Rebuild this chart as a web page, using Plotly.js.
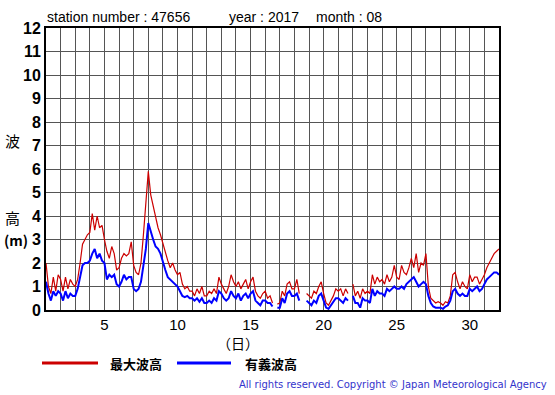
<!DOCTYPE html>
<html>
<head>
<meta charset="utf-8">
<script src="https://cdn.plot.ly/plotly-3.0.1.min.js"></script>
<style>
  html, body { margin: 0; padding: 0; background: #fff; }
  #chart { width: 555px; height: 395px; }
</style>
</head>
<body>
<div id="chart"></div>
<script>
// Samples every 4 hours, starting at day 1 00:00 (x = 1), ending at day 32 00:00.
const samplesPerDay = 6;
const startDay = 1;

// 最大波高 (maximum wave height, m)
const maxWave = [
  2.0, 1.0, 0.7, 1.4, 0.8, 1.5,   // 1
  1.3, 0.8, 1.4, 0.9, 1.3, 1.1,   // 2
  1.0, 1.3, 2.0, 2.8, 3.0, 3.2,   // 3
  3.3, 4.1, 3.4, 4.0, 3.5, 3.6,   // 4
  3.0, 2.5, 2.2, 2.7, 2.4, 1.7,   // 5
  1.8, 2.2, 2.4, 2.3, 2.4, 2.9,   // 6
  1.9, 1.6, 1.5, 2.0, 3.2, 4.4,   // 7
  5.9, 4.9, 4.4, 4.0, 3.5, 3.2,   // 8
  2.8, 2.5, 2.1, 1.8, 2.0, 1.7,   // 9
  1.5, 1.6, 1.1, 0.9, 1.0, 0.8,   // 10
  0.8, 0.6, 0.9, 0.7, 1.0, 0.6,   // 11
  0.6, 0.8, 0.7, 0.9, 0.7, 1.4,   // 12
  1.1, 0.9, 0.7, 1.0, 1.5, 1.2,   // 13
  1.0, 1.2, 0.9, 1.1, 1.3, 0.9,   // 14
  1.2, 1.4, 0.8, 0.6, 0.5, 0.7,   // 15
  0.8, 0.5, 0.6, 0.3, null, 0.25, // 16
  0.3, 0.8, 0.6, 1.1, 1.2, 0.9,   // 17
  0.9, 1.3, 0.7, null, null, 0.7, // 18
  0.6, 0.5, 0.8, 0.7, 1.0, 1.2,   // 19
  0.7, 0.3, 0.2, 0.4, 0.6, 0.9,   // 20
  0.8, 0.9, 0.6, 0.9, 0.7, null,  // 21
  1.1, 0.6, 0.8, 0.5, 0.9, 0.7,   // 22
  0.8, 0.7, 1.5, 1.1, 1.4, 1.2,   // 23
  1.3, 1.1, 1.5, 1.2, 1.4, 1.9,   // 24
  1.4, 1.3, 1.9, 1.6, 1.5, 1.8,   // 25
  2.2, 1.8, 2.4, 1.6, 2.0, 1.9,   // 26
  2.4, 1.0, 0.5, 0.4, 0.3, 0.35,  // 27
  0.3, 0.2, 0.35, 0.3, 0.6, 1.5,  // 28
  1.6, 1.2, 0.9, 1.2, 1.0, 0.9,   // 29
  1.5, 1.2, 1.4, 1.4, 1.1, 1.3,   // 30
  1.5, 1.8, 2.0, 2.2, 2.4, 2.5,   // 31
  2.6
];

// 有義波高 (significant wave height, m)
const sigWave = [
  1.2, 0.7, 0.4, 0.8, 0.6, 0.8,   // 1
  0.7, 0.4, 0.8, 0.5, 0.7, 0.6,   // 2
  0.6, 0.9, 1.4, 1.9, 2.0, 2.0,   // 3
  2.1, 2.4, 2.6, 2.2, 2.4, 2.1,   // 4
  2.0, 1.3, 1.5, 1.4, 1.5, 1.1,   // 5
  1.0, 1.2, 1.5, 1.3, 1.4, 1.4,   // 6
  0.9, 0.8, 0.9, 1.2, 1.9, 2.6,   // 7
  3.7, 3.3, 3.0, 2.7, 2.6, 2.4,   // 8
  2.0, 1.7, 1.4, 1.3, 1.2, 1.1,   // 9
  1.0, 0.8, 0.6, 0.55, 0.6, 0.5,  // 10
  0.5, 0.4, 0.5, 0.35, 0.5, 0.3,  // 11
  0.3, 0.4, 0.3, 0.5, 0.4, 0.8,   // 12
  0.7, 0.5, 0.4, 0.5, 0.8, 0.6,   // 13
  0.5, 0.7, 0.4, 0.6, 0.7, 0.5,   // 14
  0.7, 0.8, 0.4, 0.3, 0.2, 0.4,   // 15
  0.4, 0.3, 0.3, 0.15, null, 0.1, // 16
  0.1, 0.5, 0.3, 0.7, 0.8, 0.6,   // 17
  0.6, 0.7, 0.4, null, null, 0.4, // 18
  0.3, 0.2, 0.4, 0.3, 0.6, 0.7,   // 19
  0.4, 0.1, 0.05, 0.2, 0.3, 0.5,  // 20
  0.5, 0.4, 0.3, 0.5, 0.4, null,  // 21
  0.6, 0.3, 0.3, 0.1, 0.5, 0.4,   // 22
  0.4, 0.3, 0.9, 0.6, 0.8, 0.7,   // 23
  0.7, 0.6, 0.9, 0.8, 0.9, 1.0,   // 24
  0.9, 0.9, 1.0, 0.9, 1.1, 1.2,   // 25
  1.3, 1.4, 1.2, 1.0, 1.1, 1.2,   // 26
  1.1, 0.6, 0.3, 0.15, 0.1, 0.1,  // 27
  0.1, 0.05, 0.15, 0.2, 0.4, 0.8, // 28
  0.9, 0.7, 0.6, 0.7, 0.6, 0.6,   // 29
  0.9, 0.8, 0.9, 1.0, 0.8, 0.9,   // 30
  1.1, 1.3, 1.4, 1.5, 1.6, 1.6,   // 31
  1.5
];

const dayTicks = [1,2,3,4,5,6,7,8,9,10,11,12,13,14,15,16,17,18,19,20,21,22,23,24,25,26,27,28,29,30,31,32];
const dayLabels = dayTicks.map(d => (d % 5 === 0 ? String(d) : ''));
const heightTicks = [0,1,2,3,4,5,6,7,8,9,10,11,12];

const times = maxWave.map((_, i) => startDay + i / samplesPerDay);

const jp = '"Noto Sans CJK JP", sans-serif';
const latin = '"Liberation Sans", Arial, sans-serif';

const traces = [
  { x: times, y: maxWave, type: 'scatter', mode: 'lines', name: '最大波高',
    line: { color: '#cc0000', width: 1.2 }, connectgaps: false, hoverinfo: 'skip' },
  { x: times, y: sigWave, type: 'scatter', mode: 'lines', name: '有義波高',
    line: { color: '#0000ff', width: 2 }, connectgaps: false, hoverinfo: 'skip' }
];

// helpers for pixel -> paper positions (plot area 46..499 x, 28..310 y)
const L = 46, R = 499, T = 28, B = 310;
const px = v => (v - L) / (R - L);
const py = v => (B - v) / (B - T);

const layout = {
  width: 555, height: 395,
  margin: { l: L, r: 555 - R, t: T, b: 395 - B, pad: 0 },
  paper_bgcolor: '#fff', plot_bgcolor: '#fff',
  showlegend: false,
  xaxis: {
    range: [1, 32], tickvals: dayTicks, ticktext: dayLabels,
    showgrid: true, gridcolor: '#555', gridwidth: 1,
    zeroline: false, showline: true, linecolor: '#000', linewidth: 2, mirror: true,
    ticks: '', tickfont: { family: latin, size: 15, color: '#000' }, fixedrange: true
  },
  yaxis: {
    range: [0, 12], tickvals: heightTicks,
    showgrid: true, gridcolor: '#555', gridwidth: 1,
    zeroline: false, showline: true, linecolor: '#000', linewidth: 2, mirror: true,
    ticks: '', tickfont: { family: latin, size: 16, color: '#000', weight: 'bold' },
    fixedrange: true
  },
  annotations: [
    { text: 'station number : 47656', xref: 'paper', yref: 'paper', x: px(45), y: py(17),
      xanchor: 'left', yanchor: 'middle', showarrow: false, font: { family: latin, size: 14, color: '#000' } },
    { text: 'year : 2017', xref: 'paper', yref: 'paper', x: px(227), y: py(17),
      xanchor: 'left', yanchor: 'middle', showarrow: false, font: { family: latin, size: 14, color: '#000' } },
    { text: 'month : 08', xref: 'paper', yref: 'paper', x: px(314), y: py(17),
      xanchor: 'left', yanchor: 'middle', showarrow: false, font: { family: latin, size: 14, color: '#000' } },
    { text: '波', xref: 'paper', yref: 'paper', x: px(12), y: py(140),
      xanchor: 'center', yanchor: 'middle', showarrow: false, font: { family: jp, size: 15, color: '#000' } },
    { text: '高', xref: 'paper', yref: 'paper', x: px(12), y: py(217),
      xanchor: 'center', yanchor: 'middle', showarrow: false, font: { family: jp, size: 15, color: '#000' } },
    { text: '(m)', xref: 'paper', yref: 'paper', x: px(2), y: py(240),
      xanchor: 'left', yanchor: 'middle', showarrow: false, font: { family: jp, size: 14, color: '#000', weight: 'bold' } },
    { text: '（日）', xref: 'paper', yref: 'paper', x: px(238), y: py(343),
      xanchor: 'center', yanchor: 'middle', showarrow: false, font: { family: jp, size: 14, color: '#000' } },
    { text: '最大波高', xref: 'paper', yref: 'paper', x: px(108), y: py(363),
      xanchor: 'left', yanchor: 'middle', showarrow: false, font: { family: jp, size: 13, color: '#000', weight: 'bold' } },
    { text: '有義波高', xref: 'paper', yref: 'paper', x: px(243), y: py(363),
      xanchor: 'left', yanchor: 'middle', showarrow: false, font: { family: jp, size: 13, color: '#000', weight: 'bold' } },
    { text: 'All rights reserved. Copyright © Japan Meteorological Agency', xref: 'paper', yref: 'paper',
      x: px(549), y: py(384), xanchor: 'right', yanchor: 'middle', showarrow: false,
      font: { family: '"DejaVu Sans", sans-serif', size: 10, color: '#3333cc' } }
  ],
  shapes: [
    { type: 'line', xref: 'paper', yref: 'paper', x0: px(42), x1: px(98), y0: py(363), y1: py(363),
      line: { color: '#cc0000', width: 3 } },
    { type: 'line', xref: 'paper', yref: 'paper', x0: px(177), x1: px(231), y0: py(363), y1: py(363),
      line: { color: '#0000ff', width: 3 } }
  ]
};

Plotly.newPlot('chart', traces, layout, { staticPlot: true, displayModeBar: false });
</script>
</body>
</html>
